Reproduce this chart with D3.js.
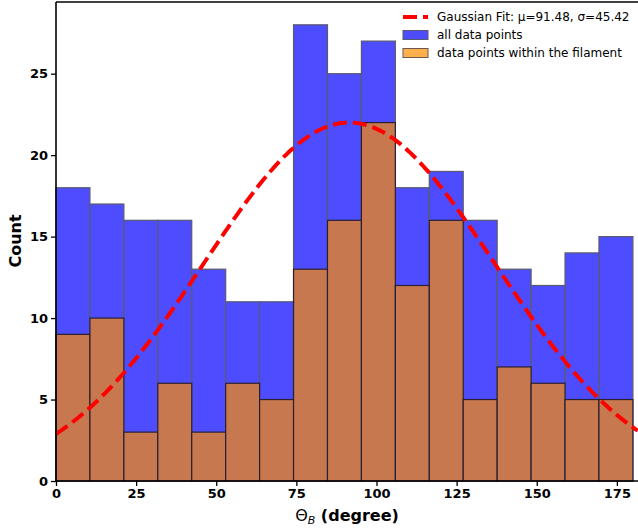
<!DOCTYPE html>
<html><head><meta charset="utf-8">
<script src="https://cdn.jsdelivr.net/npm/d3@7"></script>
<style>body{margin:0;background:#fff}svg{display:block}text{font-family:"DejaVu Sans",sans-serif}</style>
</head><body><svg id="c" width="638" height="530"></svg>
<script>
const binStart = 0, binEnd = 180, nBins = 17;
const allCounts = [18,17,16,16,13,11,11,28,25,27,18,19,16,13,12,14,15];
const filamentCounts = [9,10,3,6,3,6,5,13,16,22,12,16,5,7,6,5,5];
const fitMu = 91.48, fitSigma = 45.42, fitAmp = 22.0;
const xTicks = [0,25,50,75,100,125,150,175];
const yTicks = [0,5,10,15,20,25];
const legendLabels = ["Gaussian Fit: \u03bc=91.48, \u03c3=45.42","all data points","data points within the filament"];

const svg = d3.select("#c");
const L = 56, B = 481, T = 2;
const x = d3.scaleLinear().domain([0, 181.5]).range([L, L + 181.5*3.205]);
const y = d3.scaleLinear().domain([0, 29.4]).range([B, T]);
const w = (binEnd-binStart)/nBins;
const edges = d3.range(nBins).map(i => binStart + i*w);

svg.append("g").selectAll("rect").data(allCounts).join("rect")
  .attr("x",(d,i)=>x(edges[i])).attr("width",(d,i)=>x(edges[i]+w)-x(edges[i]))
  .attr("y",d=>y(d)).attr("height",d=>B-y(d))
  .attr("fill","#4d4dff").attr("stroke","#5a5a6e").attr("stroke-width",1.2);
svg.append("g").selectAll("rect").data(filamentCounts).join("rect")
  .attr("x",(d,i)=>x(edges[i])).attr("width",(d,i)=>x(edges[i]+w)-x(edges[i]))
  .attr("y",d=>y(d)).attr("height",d=>B-y(d))
  .attr("fill","#c8784f").attr("stroke","#2a2030").attr("stroke-width",1.2);

const xs = d3.range(0, 181.6, 0.5);
const line = d3.line().x(d=>x(d)).y(d=>y(fitAmp*Math.exp(-((d-fitMu)**2)/(2*fitSigma*fitSigma))));
svg.append("path").datum(xs).attr("d",line).attr("fill","none")
  .attr("stroke","#ff0000").attr("stroke-width",4).attr("stroke-dasharray","14,6");

// axes
const xa = svg.append("g").attr("transform",`translate(0,${B})`)
  .call(d3.axisBottom(x).tickValues(xTicks).tickSize(5).tickPadding(3));
const ya = svg.append("g").attr("transform",`translate(${L},0)`)
  .call(d3.axisLeft(y).tickValues(yTicks).tickSize(5).tickPadding(3));
[xa,ya].forEach(a=>{
  a.select(".domain").remove();
  a.selectAll("line").attr("stroke","#000").attr("stroke-width",1.3);
  a.selectAll("text").attr("font-size",13).attr("font-weight","bold").attr("fill","#000")
   .style("font-family","DejaVu Sans");
});
// spines
svg.append("line").attr("x1",L).attr("x2",640).attr("y1",B).attr("y2",B).attr("stroke","#000").attr("stroke-width",1.6);
svg.append("line").attr("x1",L).attr("x2",640).attr("y1",T).attr("y2",T).attr("stroke","#000").attr("stroke-width",1.6);
svg.append("line").attr("x1",L).attr("x2",L).attr("y1",T).attr("y2",B).attr("stroke","#000").attr("stroke-width",1.6);

// axis labels
const xl = svg.append("text").attr("x",347).attr("y",521).attr("text-anchor","middle")
  .attr("font-size",16).attr("font-weight","bold");
xl.append("tspan").attr("font-weight","normal").text("\u0398");
xl.append("tspan").attr("font-size",11).attr("font-style","italic").attr("font-weight","normal").attr("dy",3).text("B");
xl.append("tspan").attr("dy",-3).text(" (degree)");
svg.append("text").attr("transform","translate(21,241) rotate(-90)").attr("text-anchor","middle")
  .attr("font-size",16).attr("font-weight","bold").text("Count");

// legend
const lg = svg.append("g");
const ly = [17,35,53];
lg.append("line").attr("x1",403).attr("x2",428).attr("y1",ly[0]).attr("y2",ly[0])
  .attr("stroke","#ff0000").attr("stroke-width",4).attr("stroke-dasharray","14,6");
lg.append("rect").attr("x",403).attr("y",ly[1]-4.5).attr("width",25).attr("height",9)
  .attr("fill","#4d4dff").attr("stroke","#5a5a6e").attr("stroke-width",1);
lg.append("rect").attr("x",403).attr("y",ly[2]-4.5).attr("width",25).attr("height",9)
  .attr("fill","#ffb04d").attr("stroke","#6a5a50").attr("stroke-width",1);
legendLabels.forEach((t,i)=>{
  lg.append("text").attr("x",437).attr("y",ly[i]+4).attr("font-size",12).text(t);
});
</script></body></html>
